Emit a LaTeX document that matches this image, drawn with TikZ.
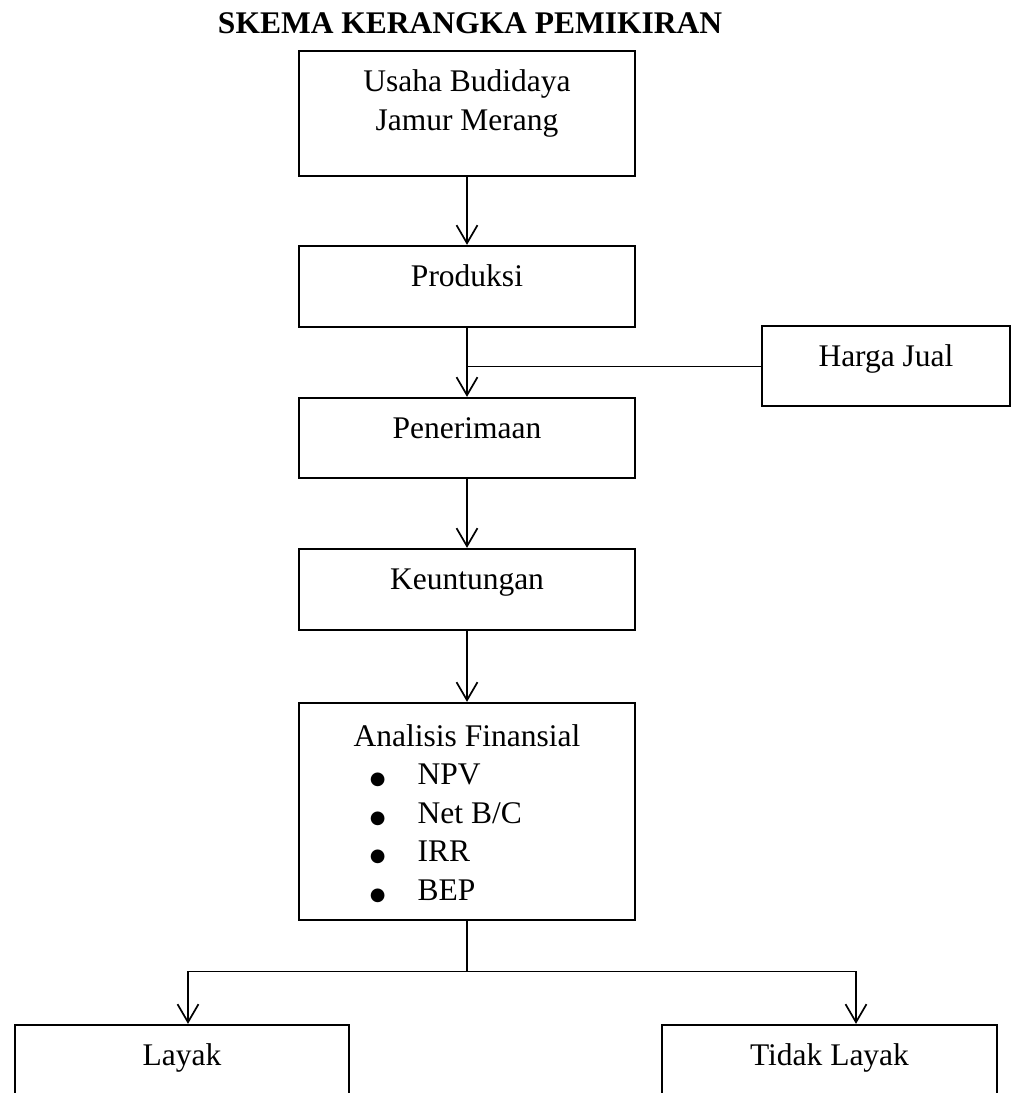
\documentclass[tikz,border=0pt]{standalone}
\usepackage{fontspec}
\setmainfont{Liberation Serif}
\newfontfamily\bulfont{DejaVu Sans}
\usepackage{tikz}
\usetikzlibrary{arrows.meta, positioning, calc}

\newcommand{\itembul}{\makebox[24pt]{{\bulfont\fontsize{9}{0}\selectfont ●}}\hspace{8pt}}

\begin{document}
\begin{tikzpicture}[x=0.5pt, y=-0.5pt,
  every node/.style={font=\fontsize{15.75}{19.25}\selectfont},
  box/.style={draw, line width=1.15pt, inner sep=0pt, text height=0pt, text depth=0pt},
  arr/.style={line width=0.85pt, -{Straight Barb[length=9pt, width=10.5pt]}},
  link/.style={line width=0.5pt}]
  \useasboundingbox (0,0) rectangle (1011,1093);

  % Title
  \node[font=\fontsize{15.75}{19.25}\selectfont\bfseries, anchor=base] (title) at (470,33) {SKEMA KERANGKA PEMIKIRAN};

  % Main chain
  \node[box, minimum width=168pt, minimum height=62.5pt, align=center, text height=16.5pt] (usaha) at (467,113.5) {Usaha Budidaya\\Jamur Merang};
  \node[box, minimum width=168pt, minimum height=40.5pt] (prod) at (467,286.5) {Produksi};
  \node[box, minimum width=124pt, minimum height=40pt] (harga) at (886,366) {Harga Jual};
  \node[box, minimum width=168pt, minimum height=40pt] (terima) at (467,438) {Penerimaan};
  \node[box, minimum width=168pt, minimum height=40.5pt] (untung) at (467,589.5) {Keuntungan};

  % Financial analysis
  \node[box, minimum width=168pt, minimum height=108.5pt, align=left, text height=88.5pt] (analisis) at (467,811.5) {
    Analisis Finansial\\
    \itembul NPV\\
    \itembul Net B/C\\
    \itembul IRR\\
    \itembul BEP
  };

  % Outcomes
  \node[box, minimum width=167pt, minimum height=40.5pt] (layak) at (182,1065.5) {Layak};
  \node[box, minimum width=167.5pt, minimum height=40.5pt] (tidak) at (829.5,1065.5) {Tidak Layak};

  % Arrows
  \draw[arr] (usaha) -- (prod);
  \draw[arr] (prod) -- (terima);
  \coordinate (join) at (prod.south |- harga.west);
  \draw[link] (harga) -- (join);
  \draw[arr] (terima) -- (untung);
  \draw[arr] (untung) -- (analisis);

  % Split
  \coordinate (split) at ([yshift=-25.5pt]analisis.south);
  \coordinate (forkL) at (188,971);
  \coordinate (forkR) at (856,971);
  \draw[line width=0.85pt] (analisis) -- (split);
  \draw[link] (forkL) -- (forkR);
  \draw[arr] (forkL) -- (forkL |- layak.north);
  \draw[arr] (forkR) -- (forkR |- tidak.north);
\end{tikzpicture}
\end{document}
